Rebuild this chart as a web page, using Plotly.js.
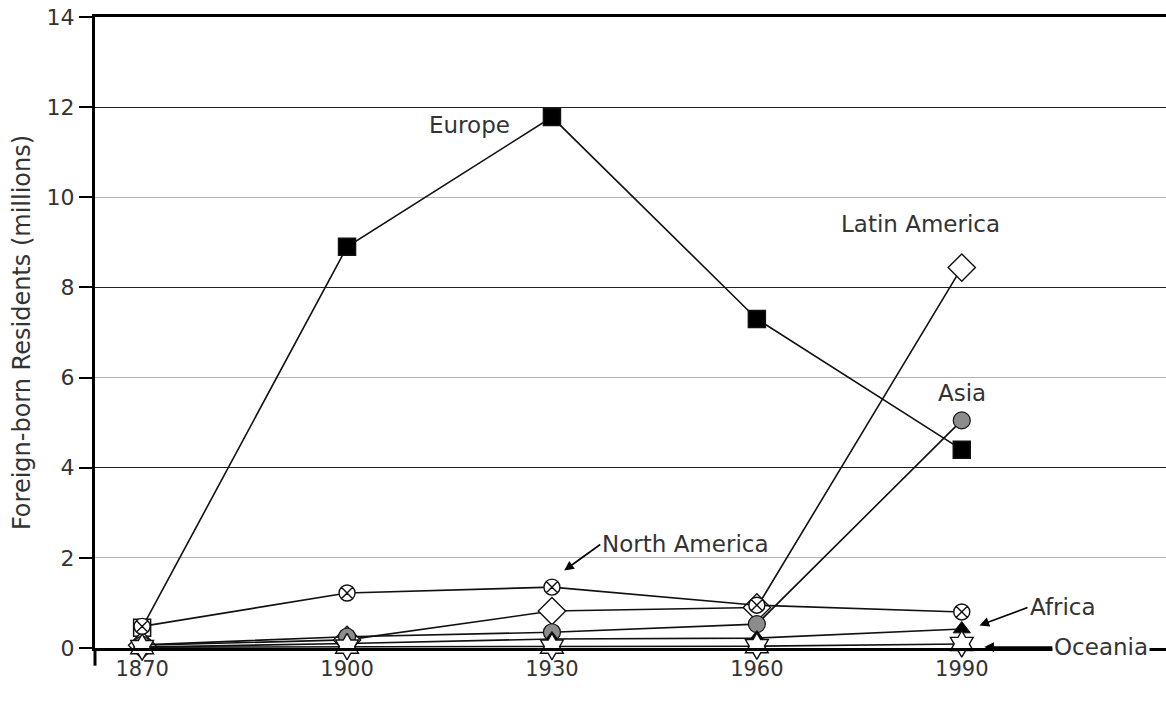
<!DOCTYPE html>
<html>
<head>
<meta charset="utf-8">
<script src="https://cdn.plot.ly/plotly-3.0.1.min.js"></script>
<style>html,body{margin:0;padding:0;background:#fff;}#chart{width:1166px;height:701px;}</style>
</head>
<body>
<div id="chart"></div>
<script>
const years = [1870, 1900, 1930, 1960, 1990];
const europe = [0.45, 8.9, 11.78, 7.3, 4.4];
const latinAmerica = [0.06, 0.18, 0.82, 0.9, 8.44];
const asia = [0.07, 0.25, 0.35, 0.53, 5.05];
const africa = [0.02, 0.1, 0.2, 0.22, 0.42];
const northAmerica = [0.48, 1.22, 1.35, 0.95, 0.8];
const oceania = [0.02, 0.03, 0.03, 0.04, 0.09];
const yTicks = [0, 2, 4, 6, 8, 10, 12, 14];
const yDarkGrid = [4, 8, 12];
const xTicks = [1870, 1900, 1930, 1960, 1990];

const txt = '#333333';
const fontFam = '"DejaVu Sans", sans-serif';

function tr(name, y, symbol, size, fill, lineW) {
  return {
    x: years, y: y, name: name, type: 'scatter', mode: 'lines+markers',
    cliponaxis: false,
    line: {color: '#111', width: 1.6},
    marker: {symbol: symbol, size: size, color: fill, line: {color: '#111', width: lineW}}
  };
}

const traces = [
  tr('Europe', europe, 'square', 17, ['#ffffff', '#000', '#000', '#000', '#000'], 1.5),
  tr('Latin America', latinAmerica, 'diamond', 21, '#ffffff', 1.4),
  tr('Asia', asia, 'circle', 17, '#8c8c8c', 1.2),
  tr('Africa', africa, 'triangle-up', 15, '#000', 1),
  tr('North America', northAmerica, 'circle-x', 16, '#ffffff', 1.4),
  tr('Oceania', oceania, 'hexagram', 20, '#ffffff', 1.4)
];
// dark gridlines via an overlay axis
traces.push({x: [years[0]], y: [yDarkGrid[0]], yaxis: 'y2', type: 'scatter', mode: 'markers',
  marker: {opacity: 0}, hoverinfo: 'skip', showlegend: false});

const annFont = {family: fontFam, size: 23, color: txt};
const layout = {
  width: 1166, height: 701,
  margin: {l: 95, r: 0, t: 17, b: 53},
  paper_bgcolor: '#fff', plot_bgcolor: '#fff',
  showlegend: false,
  font: {family: fontFam, color: txt},
  xaxis: {
    range: [1863.1, 2019.9], tickvals: xTicks, ticktext: xTicks.map(String),
    showgrid: false, zeroline: false,
    showline: true, linecolor: '#000', linewidth: 3, mirror: true,
    ticks: '', tickfont: {size: 21, color: txt}
  },
  yaxis: {
    range: [0, 14], tickvals: yTicks,
    showgrid: true, gridcolor: '#b4b4b4', gridwidth: 1, zeroline: false,
    showline: true, linecolor: '#000', linewidth: 3,
    ticks: 'outside', ticklen: 13, tickwidth: 2, tickcolor: '#000',
    tickfont: {size: 22, color: txt},
    title: {text: 'Foreign-born Residents (millions)', font: {size: 24, color: txt}, standoff: 10}
  },
  yaxis2: {
    range: [0, 14], overlaying: 'y', tickvals: yDarkGrid, showticklabels: false,
    showgrid: true, gridcolor: '#222', gridwidth: 1, zeroline: false, showline: false, ticks: ''
  },
  shapes: [
    {type: 'line', xref: 'paper', yref: 'paper', x0: 0, x1: 0, y0: 0, y1: -0.028,
     line: {color: '#000', width: 3}}
  ],
  annotations: [
    {x: 1918, y: 11.6, xref: 'x', yref: 'y', text: 'Europe', showarrow: false, font: annFont},
    {x: 1983.9, y: 9.4, xref: 'x', yref: 'y', text: 'Latin America', showarrow: false, font: annFont},
    {x: 1990, y: 5.65, xref: 'x', yref: 'y', text: 'Asia', showarrow: false, font: annFont},
    {x: 1931.8, y: 1.72, xref: 'x', yref: 'y', text: 'North America', showarrow: true,
     arrowhead: 2, arrowsize: 1.2, arrowwidth: 1.6, arrowcolor: '#000', ax: 36, ay: -26,
     xanchor: 'left', font: annFont},
    {x: 1992.6, y: 0.5, xref: 'x', yref: 'y', text: 'Africa', showarrow: true,
     arrowhead: 2, arrowsize: 1.2, arrowwidth: 1.6, arrowcolor: '#000', ax: 48, ay: -18,
     xanchor: 'left', font: annFont},
    {x: 1993.3, y: 0.02, xref: 'x', yref: 'y', text: 'Oceania', showarrow: true,
     arrowhead: 2, arrowsize: 1.2, arrowwidth: 1.6, arrowcolor: '#000', ax: 68, ay: 0,
     xanchor: 'left', bgcolor: '#ffffff', font: annFont}
  ]
};

Plotly.newPlot('chart', traces, layout, {displayModeBar: false, staticPlot: true});
</script>
</body>
</html>
